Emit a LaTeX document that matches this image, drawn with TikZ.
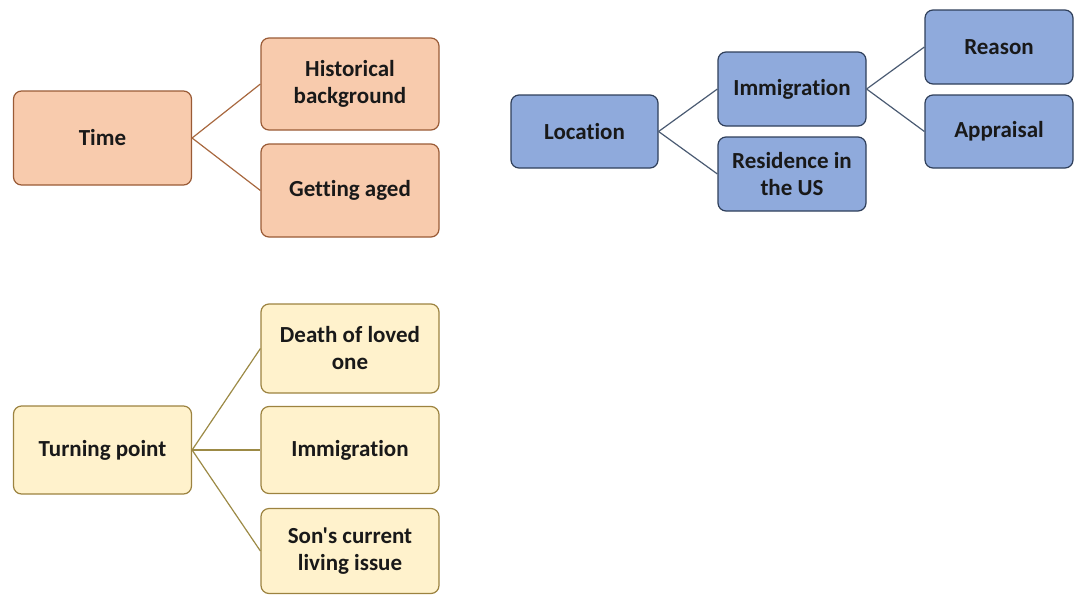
\documentclass[tikz,border=0pt]{standalone}
\usepackage{fontspec}
\setmainfont{Carlito}[Ligatures={NoCommon,TeXOff}]
\begin{document}
\begin{tikzpicture}[x=1pt,y=-1pt,
  box/.style={draw, rounded corners=8pt, line width=1.2pt, align=center, inner sep=0pt,
    font=\bfseries\fontsize{23}{27}\selectfont, text=black!90},
  obox/.style={box, fill=orangefill, draw=orangedraw},
  bbox/.style={box, fill=bluefill, draw=bluedraw},
  ybox/.style={box, fill=yellowfill, draw=yellowdraw},
  oline/.style={draw=orangeline, line width=1.2pt},
  bline/.style={draw=blueline, line width=1.2pt},
  yline/.style={draw=yellowline, line width=1.2pt}]
\definecolor{orangefill}{HTML}{F8CBAD}
\definecolor{orangedraw}{HTML}{9A5B36}
\definecolor{orangeline}{HTML}{A8683F}
\definecolor{bluefill}{HTML}{8FAADC}
\definecolor{bluedraw}{HTML}{2F3F5A}
\definecolor{blueline}{HTML}{4A5A72}
\definecolor{yellowfill}{HTML}{FFF2CC}
\definecolor{yellowdraw}{HTML}{9C8340}
\definecolor{yellowline}{HTML}{9C8A45}
\useasboundingbox (0,0) rectangle (1074,595);
% Time group
\node[obox, minimum width=178pt, minimum height=94pt] (time) at (102.5,138) {Time};
\node[obox, minimum width=178pt, minimum height=92pt] (hist) at (350,84) {Historical\\background};
\node[obox, minimum width=178pt, minimum height=93pt] (aged) at (350,190.5) {Getting aged};
\draw[oline] (time.east) -- (hist.west);
\draw[oline] (time.east) -- (aged.west);
% Location group
\node[bbox, minimum width=147pt, minimum height=73pt] (loc) at (584.5,131.5) {Location};
\node[bbox, minimum width=148pt, minimum height=74pt] (imm) at (792,89) {Immigration};
\node[bbox, minimum width=148pt, minimum height=74pt] (res) at (792,174) {Residence in\\the US};
\node[bbox, minimum width=148pt, minimum height=74pt] (reason) at (999,47) {Reason};
\node[bbox, minimum width=148pt, minimum height=73pt] (appr) at (999,131.5) {Appraisal};
\draw[bline] (loc.east) -- (imm.west);
\draw[bline] (loc.east) -- (res.west);
\draw[bline] (imm.east) -- (reason.west);
\draw[bline] (imm.east) -- (appr.west);
% Turning point group
\node[ybox, minimum width=178pt, minimum height=88pt] (turn) at (102.5,450) {Turning point};
\node[ybox, minimum width=178pt, minimum height=89pt] (death) at (350,348.5) {Death of loved\\one};
\node[ybox, minimum width=178pt, minimum height=87pt] (yimm) at (350,450) {Immigration};
\node[ybox, minimum width=178pt, minimum height=85pt] (son) at (350,551) {Son's current\\living issue};
\draw[yline] (turn.east) -- (death.west);
\draw[yline] (turn.east) -- (yimm.west);
\draw[yline] (turn.east) -- (son.west);
\end{tikzpicture}
\end{document}
